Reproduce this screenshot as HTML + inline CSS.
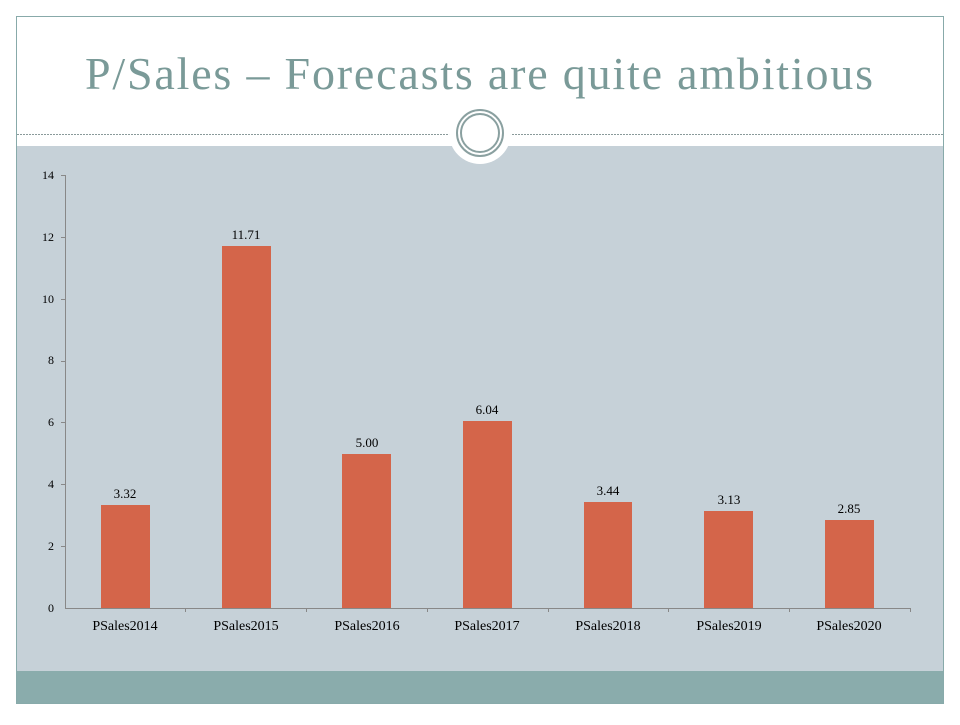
<!DOCTYPE html>
<html><head><meta charset="utf-8"><style>
body{margin:0;width:960px;height:720px;background:#fff;overflow:hidden;font-family:"Liberation Serif",serif}
</style></head><body>
<svg width="960" height="720" xmlns="http://www.w3.org/2000/svg" font-family="Liberation Serif, serif">
<rect x="16.5" y="16.5" width="927" height="687" fill="#fff" stroke="#8aa" stroke-width="1"/>
<rect x="17" y="146" width="926" height="525" fill="#c6d1d8"/>
<rect x="17" y="671" width="926" height="32" fill="#8aacac"/>
<line x1="17" y1="134.5" x2="943" y2="134.5" stroke="#8a9a9a" stroke-dasharray="2,1"/>
<circle cx="480" cy="133" r="31" fill="#fff"/>
<circle cx="480" cy="133" r="23" fill="none" stroke="#8aa0a0" stroke-width="2"/>
<circle cx="480" cy="133" r="19" fill="none" stroke="#8aa0a0" stroke-width="2"/>
<text x="85" y="89" font-size="46" fill="#7a9a98" textLength="788" lengthAdjust="spacing">P/Sales – Forecasts are quite ambitious</text>
<g stroke="#888" stroke-width="1">
<line x1="65.5" y1="175" x2="65.5" y2="608"/>
<line x1="65" y1="608.5" x2="910" y2="608.5"/>
</g>
<g font-size="12" fill="#000" text-anchor="end">
<text x="54" y="612">0</text><text x="54" y="550">2</text><text x="54" y="488">4</text><text x="54" y="426">6</text><text x="54" y="364">8</text><text x="54" y="303">10</text><text x="54" y="241">12</text><text x="54" y="179">14</text>
</g>
<g stroke="#888"><line x1="61" y1="175.5" x2="65" y2="175.5"/><line x1="61" y1="237.5" x2="65" y2="237.5"/><line x1="61" y1="299.5" x2="65" y2="299.5"/><line x1="61" y1="361.5" x2="65" y2="361.5"/><line x1="61" y1="422.5" x2="65" y2="422.5"/><line x1="61" y1="484.5" x2="65" y2="484.5"/><line x1="61" y1="546.5" x2="65" y2="546.5"/>
<line x1="185.5" y1="608" x2="185.5" y2="612"/><line x1="306.5" y1="608" x2="306.5" y2="612"/><line x1="427.5" y1="608" x2="427.5" y2="612"/><line x1="548.5" y1="608" x2="548.5" y2="612"/><line x1="668.5" y1="608" x2="668.5" y2="612"/><line x1="789.5" y1="608" x2="789.5" y2="612"/><line x1="910.5" y1="608" x2="910.5" y2="612"/></g>
<g fill="#d4654a">
<rect x="101" y="505" width="49" height="103"/>
<rect x="222" y="246" width="49" height="362"/>
<rect x="342" y="454" width="49" height="154"/>
<rect x="463" y="421" width="49" height="187"/>
<rect x="584" y="502" width="48" height="106"/>
<rect x="704" y="511" width="49" height="97"/>
<rect x="825" y="520" width="49" height="88"/>
</g>
<g font-size="13" text-anchor="middle" fill="#000">
<text x="125" y="498">3.32</text><text x="246" y="239">11.71</text><text x="367" y="447">5.00</text><text x="487" y="414">6.04</text><text x="608" y="495">3.44</text><text x="729" y="504">3.13</text><text x="849" y="513">2.85</text>
</g>
<g font-size="14" text-anchor="middle" fill="#000">
<text x="125" y="630">PSales2014</text><text x="246" y="630">PSales2015</text><text x="367" y="630">PSales2016</text><text x="487" y="630">PSales2017</text><text x="608" y="630">PSales2018</text><text x="729" y="630">PSales2019</text><text x="849" y="630">PSales2020</text>
</g>
</svg>
</body></html>
